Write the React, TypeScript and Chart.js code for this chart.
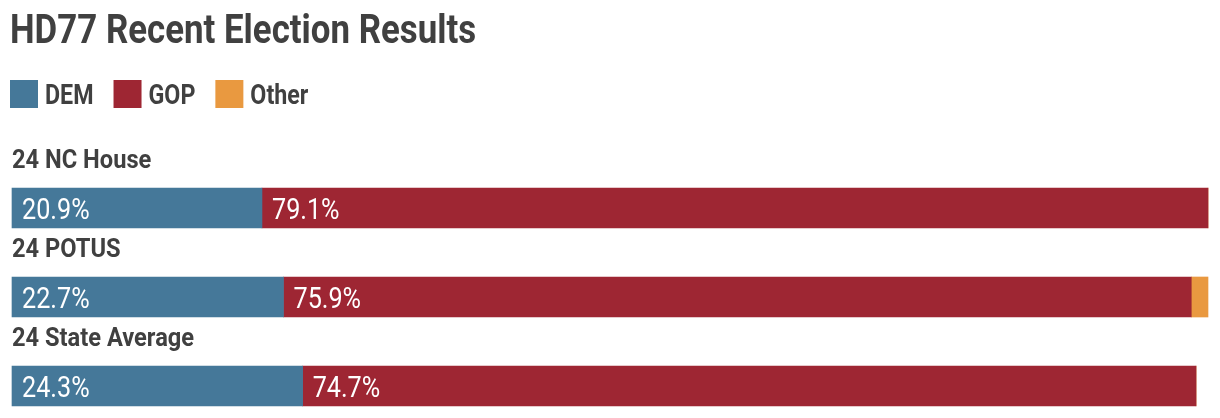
import { useEffect, useRef } from "react";
import { Chart, registerables } from "chart.js";

Chart.register(...registerables);

const TITLE = "HD77 Recent Election Results";
const categories = ["24 NC House", "24 POTUS", "24 State Average"];
const seriesNames = ["DEM", "GOP", "Other"];
const demValues = [20.9, 22.7, 24.3];
const gopValues = [79.1, 75.9, 74.7];
const otherValues = [0, 1.4, 0];
const seriesColors = ["#457899", "#9e2633", "#e99940"];

const TEXT_COLOR = "#404040";
const FONT = "Roboto, 'Liberation Sans', sans-serif";

function drawText(
  ctx: CanvasRenderingContext2D,
  text: string,
  x: number,
  y: number,
  font: string,
  color: string,
  sx: number
) {
  ctx.save();
  ctx.font = font;
  ctx.fillStyle = color;
  ctx.textAlign = "left";
  ctx.textBaseline = "alphabetic";
  ctx.translate(x, y);
  ctx.scale(sx, 1);
  ctx.fillText(text, 0, 0);
  const w = ctx.measureText(text).width * sx;
  ctx.restore();
  return w;
}

const decorPlugin = {
  id: "decor",
  afterDraw(chart: any) {
    const ctx: CanvasRenderingContext2D = chart.ctx;
    // title
    drawText(ctx, TITLE, 10, 43, `bold 41px ${FONT}`, TEXT_COLOR, 0.85);
    // legend
    let x = 10;
    chart.data.datasets.forEach((ds: any) => {
      ctx.save();
      ctx.fillStyle = ds.backgroundColor;
      ctx.fillRect(x, 80, 28, 28);
      ctx.restore();
      const w = drawText(ctx, ds.label, x + 35, 104, `bold 28px ${FONT}`, TEXT_COLOR, 0.83);
      x += 35 + w + 20;
    });
    // category labels
    const yScale = chart.scales.y;
    chart.data.labels.forEach((lab: string, i: number) => {
      const cy = yScale.getPixelForValue(i);
      drawText(ctx, lab, 12, cy - 40, `bold 26px ${FONT}`, TEXT_COLOR, 0.91);
    });
    // value labels
    chart.data.datasets.forEach((ds: any, di: number) => {
      const meta = chart.getDatasetMeta(di);
      meta.data.forEach((el: any, i: number) => {
        const v = ds.data[i];
        if (v < 5) return;
        const start = Math.min(el.base, el.x);
        drawText(ctx, v.toFixed(1) + "%", start + 10, el.y + 11, `30px ${FONT}`, "#ffffff", 0.84);
      });
    });
  },
};

export default function App() {
  const ref = useRef<HTMLCanvasElement>(null);
  useEffect(() => {
    document.body.style.margin = "0";
    const seriesData = [demValues, gopValues, otherValues];
    const chart = new Chart(ref.current!, {
      type: "bar",
      data: {
        labels: categories,
        datasets: seriesNames.map((name, i) => ({
          label: name,
          data: seriesData[i],
          backgroundColor: seriesColors[i],
          borderWidth: 0,
          barThickness: 40,
          clip: false as any,
        })),
      },
      options: {
        indexAxis: "y",
        animation: false,
        responsive: false,
        maintainAspectRatio: false,
        layout: { padding: { top: 208, bottom: 32, left: 12, right: 12 } },
        scales: {
          x: { stacked: true, min: 0, max: 100, display: false },
          y: { stacked: true, display: false, offset: false },
        },
        plugins: {
          legend: { display: false },
          title: { display: false },
          tooltip: { enabled: false },
        },
      },
      plugins: [decorPlugin],
    });
    return () => chart.destroy();
  }, []);
  return (
    <div style={{ position: "absolute", left: 0, top: 0, width: 1220, height: 418 }}>
      <canvas ref={ref} width={1220} height={418} style={{ display: "block" }} />
    </div>
  );
}
